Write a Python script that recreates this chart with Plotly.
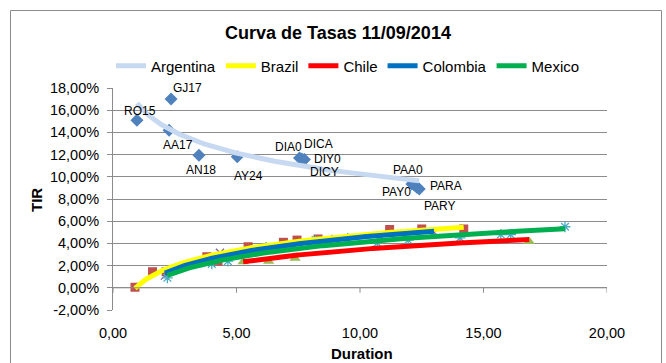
import numpy as np
import plotly.graph_objects as go

# ---- data: duration (years) and yield (TIR, %) per country ----
arg_names = ["RO15", "GJ17", "AA17", "AN18", "AY24", "DIA0", "DICA", "DIY0",
             "DICY", "PAA0", "PARA", "PAY0", "PARY"]
arg_dur = [0.97, 2.35, 2.27, 3.48, 5.03, 7.55, 7.65, 7.75, 7.70, 12.10, 12.20, 12.30, 12.40]
arg_tir = [15.1, 17.0, 14.2, 11.95, 11.8, 11.7, 11.6, 11.55, 11.5, 9.35, 9.25, 9.05, 8.9]

bra_dur = [0.89, 1.60, 2.15, 3.80, 4.25, 5.47, 6.90, 7.45, 8.30, 11.20, 12.50, 14.20]
bra_tir = [0.05, 1.45, 1.45, 2.80, 2.40, 3.70, 4.10, 4.30, 4.40, 5.25, 5.30, 5.30]

chi_dur = [5.27, 6.30, 7.37, 8.60, 16.85]
chi_tir = [2.34, 2.40, 2.67, 3.90, 4.17]

col_dur = [2.10, 4.33, 5.80, 7.30, 9.00, 10.80, 13.00]
col_tir = [1.10, 3.15, 3.50, 3.90, 4.40, 4.60, 5.00]

mex_dur = [2.20, 4.00, 4.65, 6.20, 8.20, 9.50, 10.70, 11.95, 14.05, 15.70, 16.10, 18.30]
mex_tir = [0.90, 2.15, 2.40, 3.65, 4.30, 4.45, 4.05, 4.30, 4.50, 4.80, 4.80, 5.50]

y_ticks = [-2, 0, 2, 4, 6, 8, 10, 12, 14, 16, 18]
x_ticks = [0, 5, 10, 15, 20]

# ---- styling ----
FONT = "Liberation Sans, Arial, sans-serif"
GRID = "#8c8c8c"
series = [
    # name, durations, yields, marker colour, symbol, size, trend colour
    ("Argentina", arg_dur, arg_tir, "#4F81BD", "diamond", 10, "#C6D9F1"),
    ("Brazil", bra_dur, bra_tir, "#C0504D", "square", 9, "#FFFF00"),
    ("Chile", chi_dur, chi_tir, "#9BBB59", "triangle-up", 10, "#FF0000"),
    ("Colombia", col_dur, col_tir, "#8064A2", "x-thin-open", 8, "#0070C0"),
    ("Mexico", mex_dur, mex_tir, "#4BACC6", "asterisk-open", 9, "#00B050"),
]

# pixel offsets of the Argentina data labels relative to their points
label_shift = {
    "RO15": (3, -9), "GJ17": (16, -11), "AA17": (9, 15), "AN18": (2, 15),
    "AY24": (11, 19), "DIA0": (-11, -11), "DICA": (17, -15), "DIY0": (23, -1),
    "DICY": (21, 12), "PAA0": (-4, -14), "PARA": (32, 1), "PAY0": (-20, 5),
    "PARY": (21, 17),
}

fig = go.Figure()

# markers first
for name, d, v, mc, sym, sz, tc in series:
    open_sym = sym.endswith("open")
    fig.add_trace(go.Scatter(
        x=d, y=v, mode="markers", showlegend=False, name=name,
        marker=dict(symbol=sym, size=sz, color=mc,
                    line=dict(color=mc, width=1.3 if open_sym else 0)),
    ))

# logarithmic trend lines on top
for name, d, v, mc, sym, sz, tc in series:
    d = np.asarray(d, float)
    v = np.asarray(v, float)
    b, a = np.polyfit(np.log(d), v, 1)
    xs = np.linspace(d.min(), d.max(), 200)
    fig.add_trace(go.Scatter(
        x=xs, y=a + b * np.log(xs), mode="lines", name=name,
        line=dict(color=tc, width=5), showlegend=True,
    ))

# Argentina data labels
for n, d, v in zip(arg_names, arg_dur, arg_tir):
    dx, dy = label_shift[n]
    fig.add_annotation(x=d, y=v, text=n, showarrow=False,
                       xshift=dx, yshift=-dy,
                       font=dict(family=FONT, size=12, color="#000000"))

# horizontal axis line crossing at 0 % with tick marks
shapes = [dict(type="line", xref="x", yref="y", x0=0, x1=20, y0=0, y1=0,
               line=dict(color=GRID, width=1))]
for t in x_ticks:
    shapes.append(dict(type="line", xref="x", yref="y", x0=t, x1=t,
                       ysizemode="pixel", yanchor=0, y0=0, y1=-5,
                       line=dict(color=GRID, width=1)))
# chart frame
shapes.append(dict(type="rect", xref="paper", yref="paper",
                   x0=(10.5 - 113) / 494, x1=(661.5 - 113) / 494,
                   y0=(310 - 380) / 222, y1=(310 - 10.5) / 222,
                   line=dict(color="#8c8c8c", width=1), layer="below"))

fig.update_layout(
    width=666, height=363,
    margin=dict(l=113, r=59, t=88, b=53),
    paper_bgcolor="white", plot_bgcolor="white",
    font=dict(family=FONT, color="#000000"),
    title=dict(text="<b>Curva de Tasas 11/09/2014</b>",
               font=dict(family=FONT, size=18, color="#000000"),
               x=338 / 666, xanchor="center", xref="container",
               y=1 - 33 / 363, yanchor="middle", yref="container"),
    legend=dict(orientation="h", x=(348 - 113) / 494, xanchor="center",
                y=(310 - 66) / 222, yanchor="middle",
                font=dict(family=FONT, size=15, color="#000000"),
                itemwidth=30, bgcolor="rgba(0,0,0,0)", tracegroupgap=0),
    shapes=shapes,
    showlegend=True,
)

fig.update_xaxes(
    range=[0, 20], tickvals=x_ticks,
    ticktext=[f"{t:.2f}".replace(".", ",") for t in x_ticks],
    showgrid=False, zeroline=False, showline=False, ticks="",
    tickfont=dict(family=FONT, size=14.5, color="#000000"),
    ticklabelstandoff=12,
)
fig.update_yaxes(
    range=[-2, 18], tickvals=y_ticks,
    ticktext=[f"{t:.2f}".replace(".", ",") + "%" for t in y_ticks],
    showgrid=True, gridcolor=GRID, gridwidth=1, zeroline=False,
    showline=True, linecolor=GRID, linewidth=1,
    ticks="outside", ticklen=5, tickcolor=GRID,
    tickfont=dict(family=FONT, size=14.5, color="#000000"),
    ticklabelstandoff=5,
)

fig.add_annotation(text="<b>Duration</b>", xref="paper", yref="paper",
                   x=(362 - 113) / 494, y=(310 - 353) / 222, showarrow=False,
                   xanchor="center", yanchor="middle",
                   font=dict(family=FONT, size=15, color="#000000"))
fig.add_annotation(text="<b>TIR</b>", xref="paper", yref="paper",
                   x=(36 - 113) / 494, y=(310 - 200) / 222, showarrow=False,
                   textangle=-90, xanchor="center", yanchor="middle",
                   font=dict(family=FONT, size=15, color="#000000"))

fig.write_html("out.html")
